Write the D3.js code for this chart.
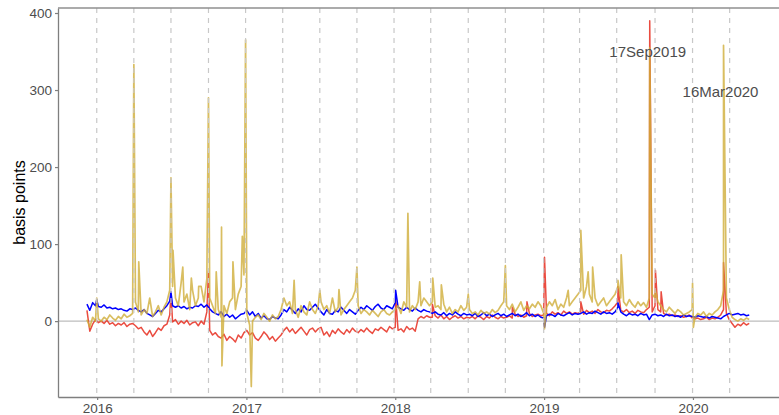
<!DOCTYPE html>
<html>
<head>
<meta charset="utf-8">
<script src="https://cdn.jsdelivr.net/npm/d3@7"></script>
<style>
body { margin: 0; background: #fff; }
text { font-family: "Liberation Sans", Arial, sans-serif; }
</style>
</head>
<body>
<div id="main"></div>
<script>
// weekly readings, first one on this monday
var firstWeek = "2015-12-07";

// blue series, weekly (one row per quarter)
var blueWeekly = [
  22, 14, 24, 20,
  19, 18, 21, 17, 18, 16, 17, 15, 16, 14, 13, 16, 15,
  17, 14, 12, 15, 10, 8, 6, 10, 14, 12, 16, 20, 26,
  20, 18, 20, 17, 19, 16, 18, 17, 20, 19, 22, 18, 21,
  16, 12, 10, 8, 12, 6, 9, 5, 8, 3, 6, 9, 10,
  14, 8, 12, 6, 10, 4, 7, 3, 2, 6, 4, 3, 8,
  15, 12, 18, 14, 10, 16, 12, 20, 15, 14, 18, 22, 17,
  12, 8, 15, 10, 9, 14, 12, 18, 14, 10, 15, 12, 9,
  14, 18, 15, 20, 17, 14, 19, 22, 17, 15, 20, 18, 16,
  24, 18, 16, 14, 18, 15, 13, 17, 14, 12, 15, 13, 12,
  10, 12, 9, 8, 11, 7, 10, 8, 12, 9, 7, 10, 8,
  9, 7, 10, 6, 8, 11, 7, 9, 6, 8, 10, 7, 9,
  6, 8, 10, 7, 9, 6, 8, 11, 7, 9, 6, 8, 5,
  4, 7, 9, 8, 6, 10, 8, 7, 9, 11, 8, 10, 9,
  10, 12, 9, 11, 10, 13, 11, 9, 12, 10, 11, 9, 12,
  18, 12, 9, 7, 10, 8, 9, 7, 10, 8, 9, 2, 8,
  9, 7, 8, 6, 9, 7, 8, 6, 7, 5, 8, 6, 7, 6,
  5, 7, 6, 5, 6, 4, 6, 5, 4, 3, 6, 8, 10,
  8, 9, 10, 8, 9, 7, 8
];

// red series, weekly
var redWeekly = [
  14, -13, -4, 2,
  -2, 0, -3, 1, -4, -2, -6, -3, -5, -2, -7, -4, -3,
  -6, -10, -8, -14, -18, -12, -20, -15, -9, -12, -6, -4, 8,
  -1, 2, -4, 0, -3, 1, -5, -2, -1, -6, 0, -4, 12,
  -12, -18, -15, -20, -22, -17, -25, -20, -23, -27, -18, -22, -15,
  -12, -18, -15, -22, -25, -20, -14, -18, -24, -20, -26, -22, -18,
  -12, -8, -14, -10, -16, -12, -8, -13, -18, -11, -9, -14, -10,
  -8, -18, -14, -20, -12, -16, -10, -14, -17, -11, -15, -9, -13,
  -15, -11, -14, -9, -13, -16, -10, -12, -8, -11, -14, -7, -10,
  -8, -12, -10, -14, -7, -11, -9, -13, 3, 6, 4, 7, 5,
  5, 7, 4, 8, 3, 6, 2, 5, 7, 4, 6, 3, 5,
  4, 6, 3, 7, 5, 2, 6, 4, 8, 5, 3, 6, 4,
  5, 7, 4, 9, 6, 8, 5, 7, 10, 6, 8, 9, 7,
  8, 10, 7, 12, 9, 11, 8, 13, 10, 12, 9, 11, 10,
  12, 9, 14, 11, 13, 10, 15, 12, 11, 14, 13, 16, 20,
  25, 14, 12, 15, 11, 13, 10, 14, 12, 11, 15, 18, 12,
  20, 15, 12, 10, 8, 9, 7, 8, 6, 7, 5, 6, 8, 4,
  3, 4, 2, 3, 5, 2, 4, 3, 5, 8, 15, 10, 2,
  -3, -8, -4, -6, -2, -5, -3
];

// gold series, weekly
var goldWeekly = [
  2, -8, 5, 0,
  3, 0, 5, 2, 8, 4, 1, 6, 3, 9, 5, 7, 10,
  25, 12, 8, 15, 10, 30, 6, 12, 20, 8, 18, 25, 40,
  45, 30, 20, 50, 25, 35, 15, 40, 20, 30, 45, 25, 55,
  30, 20, 10, 15, 5, 20, 10, 25, 30, 15, 35, 45, 60,
  10, -5, 0, 5, 8, 2, 10, 5, 0, 8, 3, 6, 15,
  30, 20, 25, 10, 15, 5, 20, 12, 8, 25, 15, 10, 20,
  25, 15, 20, 10, 30, 12, 18, 8, 15, 20, 25, 30, 40,
  20, 10, 15, 12, 8, 14, 10, 6, 12, 15, 10, 8, 12,
  15, 20, 10, 25, 18, 12, 20, 15, 25, 20, 30, 25, 20,
  25, 18, 20, 15, 22, 12, 18, 10, 15, 12, 20, 14, 18,
  15, 10, 12, 8, 14, 10, 12, 9, 15, 11, 14, 20, 25,
  20, 15, 22, 12, 18, 25, 14, 20, 16, 22, 18, 25, 20,
  10, 18, 25, 20, 28, 15, 22, 18, 30, 20, 25, 30, 35,
  40, 30, 45, 35, 25, 30, 20, 25, 30, 20, 25, 30, 35,
  45, 30, 25, 20, 28, 22, 18, 25, 20, 24, 18, 30, 35,
  30, 25, 20, 15, 12, 18, 14, 10, 15, 12, 8, 10, 12, 15,
  5, 10, 8, 12, 6, 10, 8, 12, 15, 20, 40, 30, 15,
  5, 2, 0, 3, 1, 4, 2
];

// single-day jumps
var blueSpikes = [
  ["2015-12-31", 28], ["2016-06-30", 38], ["2018-01-02", 40],
  ["2019-01-02", -8], ["2019-07-01", 24]
];
var redSpikes = [
  ["2016-06-30", 35], ["2016-09-30", 65], ["2018-01-02", 30],
  ["2018-04-02", 22], ["2018-10-15", 18], ["2018-11-20", 25],
  ["2019-01-02", 83], ["2019-04-01", 25], ["2019-07-01", 45],
  ["2019-09-17", 390], ["2019-10-01", 66], ["2019-10-15", 38],
  ["2020-03-16", 76]
];
var goldSpikes = [
  ["2015-12-31", 30], ["2016-03-31", 333], ["2016-04-12", 77],
  ["2016-06-30", 186], ["2016-07-05", 92], ["2016-07-29", 70],
  ["2016-08-19", 56], ["2016-09-06", 45], ["2016-09-30", 290],
  ["2016-10-19", 64], ["2016-11-01", 122], ["2016-11-02", -58],
  ["2016-11-29", 77], ["2016-12-22", 110], ["2016-12-30", 365],
  ["2017-01-13", -85], ["2017-04-28", 53], ["2017-06-30", 40],
  ["2017-08-16", 41], ["2017-09-29", 70], ["2018-02-01", 140],
  ["2018-03-02", 51], ["2018-04-03", 56], ["2018-04-24", 47],
  ["2018-06-29", 35], ["2018-09-28", 72], ["2019-01-02", -10],
  ["2019-03-01", 40], ["2019-04-01", 118], ["2019-04-19", 64],
  ["2019-04-30", 70], ["2019-07-01", 53], ["2019-07-09", 86],
  ["2019-09-17", 355], ["2019-10-01", 40], ["2019-12-31", 49],
  ["2020-01-02", -8], ["2020-03-16", 358]
];

// quarter ends (dashed lines)
var quarterEnds = [
  "2015-12-31", "2016-03-31", "2016-06-30", "2016-09-30", "2016-12-30",
  "2017-03-31", "2017-06-30", "2017-09-29", "2017-12-29",
  "2018-03-29", "2018-06-29", "2018-09-28", "2018-12-31",
  "2019-03-29", "2019-06-28", "2019-09-30", "2019-12-31", "2020-03-31"
];

var yearTicks = ["2016", "2017", "2018", "2019", "2020"];
var yTicks = [0, 100, 200, 300, 400];

// labelled events
var events = [["17Sep2019", "2019-09-17"], ["16Mar2020", "2020-03-16"]];

// ---- layout
var W = 779, H = 415;
var margin = {top: 8, right: 0, bottom: 18, left: 58};

var parse = d3.timeParse("%Y-%m-%d");

var x = d3.scaleTime()
    .domain([parse("2015-09-27"), parse("2020-07-30")])
    .range([margin.left, W - margin.right]);

var y = d3.scaleLinear()
    .domain([-98.5, 406.5])
    .range([H - margin.bottom, margin.top]);

var svg = d3.select("#main").append("svg")
    .attr("width", W)
    .attr("height", H);

svg.append("clipPath").attr("id", "clip")
  .append("rect")
    .attr("x", margin.left).attr("y", margin.top)
    .attr("width", W - margin.left - margin.right)
    .attr("height", H - margin.top - margin.bottom);

// zero line
svg.append("line")
    .attr("x1", margin.left).attr("x2", W)
    .attr("y1", y(0)).attr("y2", y(0))
    .attr("stroke", "#bdbdbd")
    .attr("stroke-width", 1.3);

// build each series: weekly points plus spikes, sorted by date
var start = parse(firstWeek);
function buildSeries(weekly, spikes) {
    var pts = weekly.map(function(v, i) {
        return {date: d3.timeWeek.offset(start, i), value: v};
    });
    spikes.forEach(function(s) {
        pts.push({date: parse(s[0]), value: s[1]});
    });
    pts.sort(function(a, b) { return a.date - b.date; });
    return pts;
}

var series = [
    {data: buildSeries(redWeekly, redSpikes), color: "#e8382b", opacity: 0.9, width: 1.5},
    {data: buildSeries(blueWeekly, blueSpikes), color: "#0000ff", opacity: 1, width: 1.5},
    {data: buildSeries(goldWeekly, goldSpikes), color: "#d0ae3a", opacity: 0.8, width: 1.7}
];

var line = d3.line()
    .x(function(d) { return x(d.date); })
    .y(function(d) { return y(d.value); });

svg.append("g")
    .attr("clip-path", "url(#clip)")
  .selectAll("path")
  .data(series)
  .enter().append("path")
    .attr("d", function(d) { return line(d.data); })
    .attr("fill", "none")
    .attr("stroke", function(d) { return d.color; })
    .attr("stroke-opacity", function(d) { return d.opacity; })
    .attr("stroke-width", function(d) { return d.width; })
    .attr("stroke-linejoin", "round");

// dashed quarter-end lines sit on top of the series
svg.append("g").selectAll("line")
  .data(quarterEnds)
  .enter().append("line")
    .attr("x1", function(d) { return x(parse(d)); })
    .attr("x2", function(d) { return x(parse(d)); })
    .attr("y1", margin.top)
    .attr("y2", H - margin.bottom)
    .attr("stroke", "#c8c8c8")
    .attr("stroke-width", 1.2)
    .attr("stroke-dasharray", "5,5");

// event labels
var labelOffsets = [{dx: -2, v: 350}, {dx: -3, v: 298}];
svg.append("g").selectAll("text")
  .data(events)
  .enter().append("text")
    .attr("x", function(d, i) { return x(parse(d[1])) + labelOffsets[i].dx; })
    .attr("y", function(d, i) { return y(labelOffsets[i].v); })
    .attr("dy", "0.35em")
    .attr("text-anchor", "middle")
    .attr("fill", "#4d4d4d")
    .style("font-size", "15px")
    .text(function(d) { return d[0]; });

// axes
var yAxis = svg.append("g")
    .attr("transform", "translate(" + margin.left + ",0)")
    .call(d3.axisLeft(y).tickValues(yTicks).tickSize(3).tickPadding(3).tickSizeOuter(0));

var xAxis = svg.append("g")
    .attr("transform", "translate(0," + (H - margin.bottom) + ")")
    .call(d3.axisBottom(x)
        .tickValues(yearTicks.map(function(t) { return d3.timeParse("%Y")(t); }))
        .tickFormat(d3.timeFormat("%Y"))
        .tickSize(3).tickPadding(3).tickSizeOuter(0));

[yAxis, xAxis].forEach(function(ax) {
    ax.select(".domain").attr("stroke", "#7f7f7f").attr("stroke-width", 1.3);
    ax.selectAll(".tick line").attr("stroke", "#7f7f7f").attr("stroke-width", 1.2);
    ax.selectAll(".tick text")
        .attr("fill", "#4d4d4d")
        .style("font-size", "13.5px")
        .style("font-family", "'Liberation Sans', Arial, sans-serif");
});

// top border of the panel
svg.append("line")
    .attr("x1", margin.left).attr("x2", W)
    .attr("y1", margin.top).attr("y2", margin.top)
    .attr("stroke", "#8f8f8f")
    .attr("stroke-width", 1.3);

// y title
svg.append("text")
    .attr("transform", "translate(19," + ((margin.top + H - margin.bottom) / 2) + ") rotate(-90)")
    .attr("text-anchor", "middle")
    .attr("dy", "0.35em")
    .attr("fill", "#000")
    .style("font-size", "16px")
    .text("basis points");
</script>
</body>
</html>
